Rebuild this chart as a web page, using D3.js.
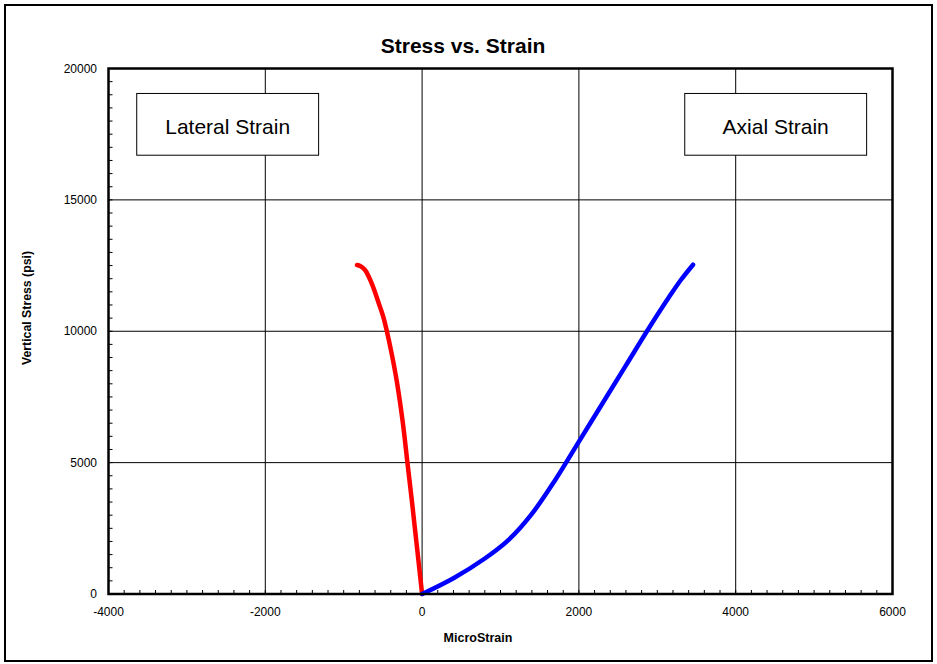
<!DOCTYPE html>
<html><head><meta charset="utf-8">
<script src="https://cdn.jsdelivr.net/npm/d3@7"></script>
<style>body{margin:0;background:#fff;}svg{display:block;font-family:"Liberation Sans",Arial,sans-serif;}</style>
</head><body>
<svg id="c" width="937" height="664"></svg>
<script>
const title = "Stress vs. Strain";
const xLabel = "MicroStrain";
const yLabel = "Vertical Stress (psi)";
const xTicks = [-4000, -2000, 0, 2000, 4000, 6000];
const yTicks = [0, 5000, 10000, 15000, 20000];
const lateralStrain = [0, -66, -127, -187, -245, -322, -385, -450, -495, -559, -643, -728, -790, -830];
const lateralStress = [0, 1800, 3450, 5000, 6500, 8080, 9100, 10010, 10550, 11120, 11820, 12330, 12480, 12520];
const axialStrain = [0, 400, 800, 1100, 1400, 1700, 2000, 2300, 2600, 2900, 3150, 3300, 3456];
const axialStress = [0, 600, 1350, 2050, 3050, 4350, 5800, 7250, 8700, 10150, 11300, 11950, 12533];
const labels = ["Lateral Strain", "Axial Strain"];

const svg = d3.select("#c");
const L = 108.5, R = 892.5, T = 68.5, B = 594;
const x = d3.scaleLinear().domain([-4000, 6000]).range([L, R]);
const y = d3.scaleLinear().domain([0, 20000]).range([B, T]);

svg.append("rect").attr("x", 5).attr("y", 5).attr("width", 927).attr("height", 656)
  .attr("fill", "none").attr("stroke", "#000").attr("stroke-width", 2);

// gridlines
svg.append("g").selectAll("line").data(xTicks.slice(1, -1)).join("line")
  .attr("x1", d => x(d)).attr("x2", d => x(d)).attr("y1", T).attr("y2", B)
  .attr("stroke", "#000").attr("stroke-width", 1);
svg.append("g").selectAll("line").data(yTicks.slice(1, -1)).join("line")
  .attr("y1", d => y(d)).attr("y2", d => y(d)).attr("x1", L).attr("x2", R)
  .attr("stroke", "#000").attr("stroke-width", 1);

// minor ticks
const xMinor = d3.range(-4000, 6001, 200);
svg.append("g").selectAll("line").data(xMinor).join("line")
  .attr("x1", d => x(d)).attr("x2", d => x(d)).attr("y1", B).attr("y2", B - 4)
  .attr("stroke", "#000").attr("stroke-width", 1);
const yMinor = d3.range(0, 20001, 500);
svg.append("g").selectAll("line").data(yMinor).join("line")
  .attr("y1", d => y(d)).attr("y2", d => y(d)).attr("x1", L).attr("x2", L + 4)
  .attr("stroke", "#000").attr("stroke-width", 1);

// label boxes
const boxes = [{t: labels[0], x0: -3640, x1: -1320}, {t: labels[1], x0: 3350, x1: 5670}];
boxes.forEach(b => {
  const bx = x(b.x0), bw = x(b.x1) - x(b.x0), by = y(19050), bh = y(16700) - y(19050);
  svg.append("rect").attr("x", bx).attr("y", by).attr("width", bw).attr("height", bh)
    .attr("fill", "#fff").attr("stroke", "#000").attr("stroke-width", 1);
  svg.append("text").attr("x", bx + bw / 2).attr("y", 133.5)
    .attr("text-anchor", "middle").attr("font-size", 21).text(b.t);
});

const line = d3.line().curve(d3.curveCatmullRom.alpha(0.5));
svg.append("path").attr("d", line(lateralStrain.map((d, i) => [x(d), y(lateralStress[i])])))
  .attr("fill", "none").attr("stroke", "#ff0000").attr("stroke-width", 4.5).attr("stroke-linecap", "round");
svg.append("path").attr("d", line(axialStrain.map((d, i) => [x(d), y(axialStress[i])])))
  .attr("fill", "none").attr("stroke", "#0000ff").attr("stroke-width", 4.5).attr("stroke-linecap", "round");

// plot border
svg.append("rect").attr("x", L).attr("y", T).attr("width", R - L).attr("height", B - T)
  .attr("fill", "none").attr("stroke", "#000").attr("stroke-width", 2.5);

// tick labels
svg.append("g").selectAll("text").data(xTicks).join("text")
  .attr("x", d => x(d)).attr("y", 616).attr("text-anchor", "middle").attr("font-size", 12).text(d => d);
svg.append("g").selectAll("text").data(yTicks).join("text")
  .attr("x", 97).attr("y", d => y(d) + 4).attr("text-anchor", "end").attr("font-size", 12).text(d => d);

svg.append("text").attr("x", 463).attr("y", 53).attr("text-anchor", "middle")
  .attr("font-size", 21).attr("font-weight", "bold").text(title);
svg.append("text").attr("x", 478).attr("y", 642).attr("text-anchor", "middle")
  .attr("font-size", 12.5).attr("font-weight", "bold").text(xLabel);
svg.append("text").attr("transform", "translate(31,308) rotate(-90)").attr("text-anchor", "middle")
  .attr("font-size", 12.3).attr("font-weight", "bold").text(yLabel);
</script>
</body></html>
